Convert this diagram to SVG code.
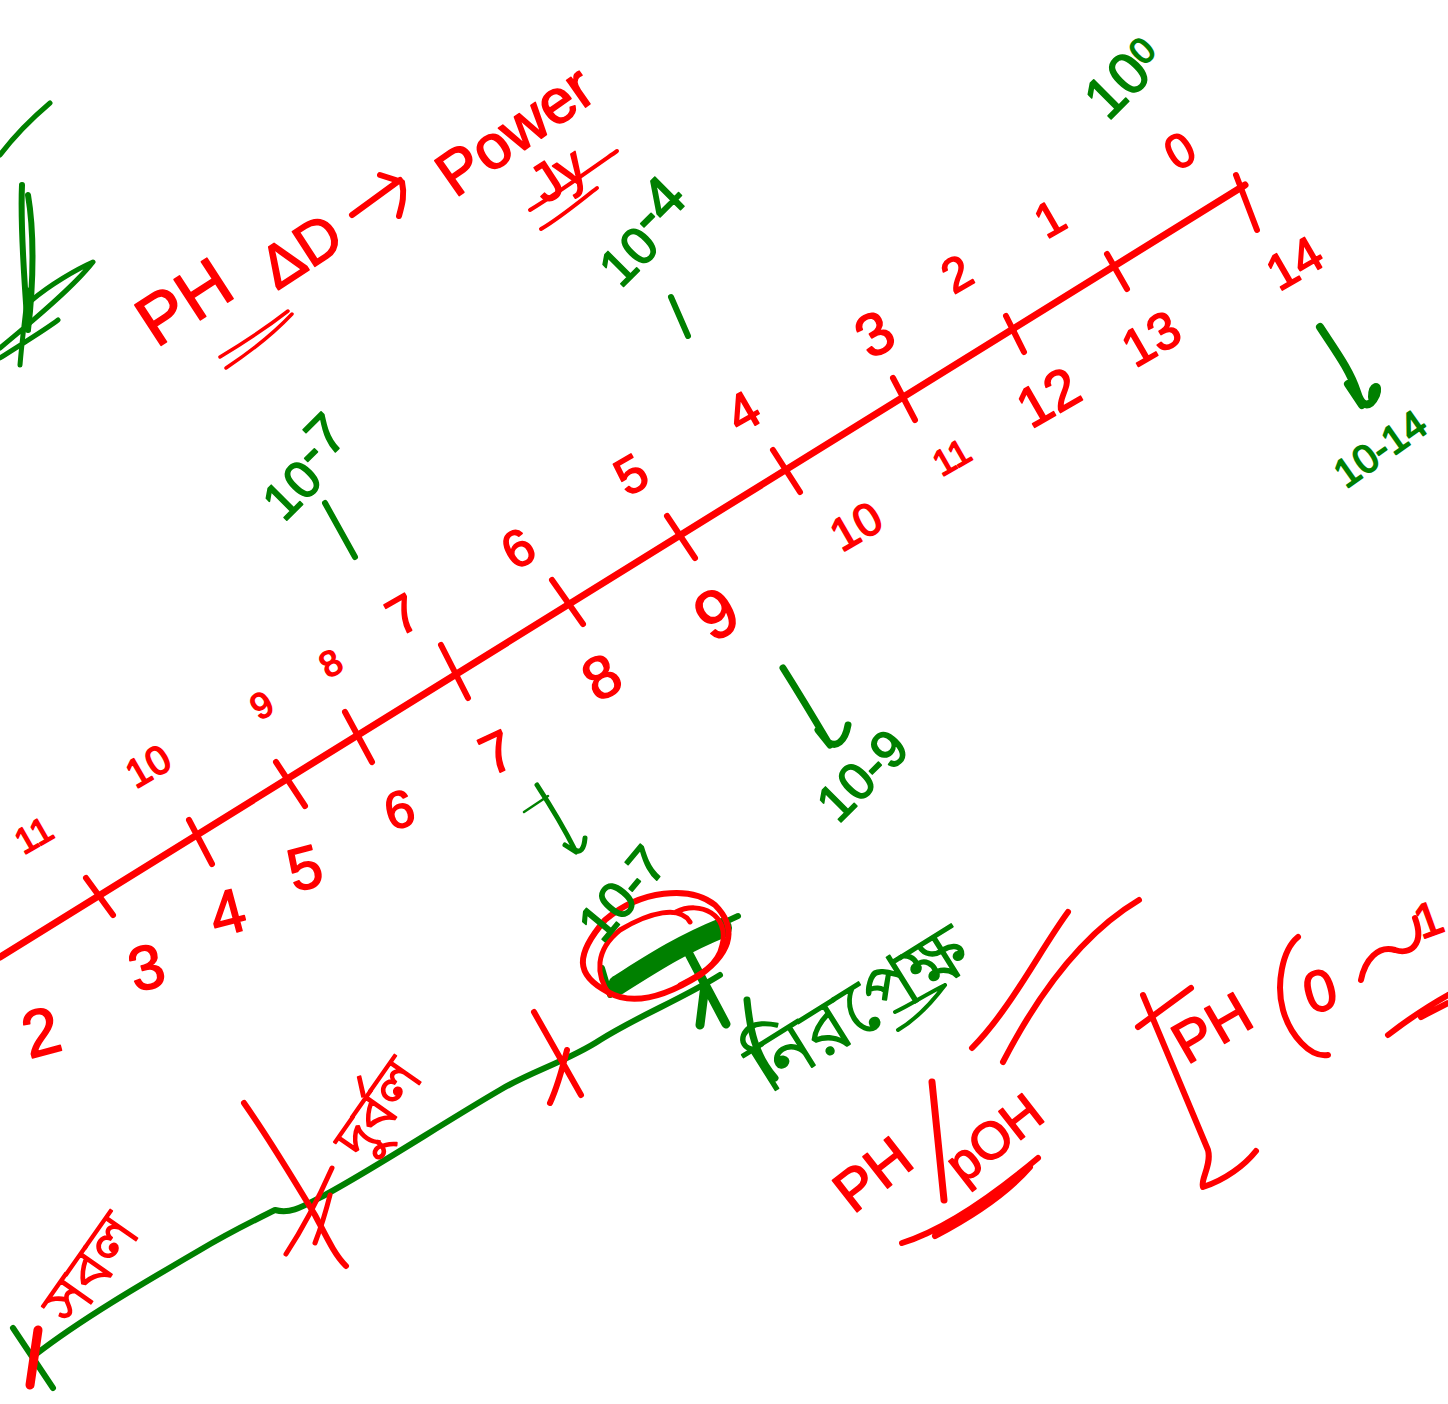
<svg xmlns="http://www.w3.org/2000/svg" width="1448" height="1404" viewBox="0 0 1448 1404">
<style>
text{font-family:"Liberation Sans","Noto Sans",sans-serif;text-anchor:middle;stroke-width:1.6;stroke-linejoin:round}
.r{fill:#f00;stroke:#f00}.g{fill:#008000;stroke:#008000}
.n{font-size:48px}
.s{font-size:36px}
.lr,.lg,.lr2,.lg2,.lr3,.thick{fill:none;stroke-linecap:round;stroke-linejoin:round}
.lr{stroke:#f00;stroke-width:6}.lr2{stroke:#f00;stroke-width:3.5}.lr3{stroke:#f00;stroke-width:9}
.lg{stroke:#008000;stroke-width:6}.lg2{stroke:#008000;stroke-width:2.5}.thick{stroke:#008000;stroke-width:20}
</style>
<rect width="1448" height="1404" fill="#fff"/>
<g id="connectors">
<path class="lr" style="stroke-width:7" d="M0 957L1245 185"/>
<path class="lr" d="M1236 175L1257 230M1107 254L1127 289M1006 316L1024 352M893 378L915 420M773 450L800 492M667 516L695 558M552 580L583 624M441 645L468 698M345 712L372 762M276 762L305 806M189 820L212 864M86 878L113 915"/>
<path class="lg" d="M35 1355C80 1320 140 1285 200 1250C230 1232 255 1220 275 1210C290 1214 300 1208 325 1195C380 1165 440 1125 500 1090C530 1072 570 1060 600 1040C640 1015 680 1000 720 975"/>
<path class="lg" d="M13 1328L53 1388"/>
<path class="lr3" d="M38 1330L30 1385"/>
<path class="lr" d="M244 1103C270 1140 300 1190 315 1215C328 1240 335 1255 346 1266"/>
<path class="lr2" style="stroke-width:5" d="M332 1168C320 1195 305 1225 286 1254M330 1195C325 1215 320 1230 315 1243"/>
<path class="lr" d="M534 1012L581 1095M567 1050C562 1070 556 1090 550 1103"/>
<path class="thick" d="M618 985C650 965 680 945 722 928"/>
<path class="lg" d="M602 968L610 995M725 922L738 916"/>
<path class="lg" style="stroke-width:9" d="M688 952L708 990L726 1024M705 985L700 1025"/>
<path class="lr" d="M608 992C575 975 575 955 605 920C640 890 690 885 715 905C735 925 735 950 700 975C660 1000 630 1005 608 992Z"/>
<path class="lr2" style="stroke-width:5" d="M610 995C595 975 595 950 620 930C650 912 680 905 690 922M676 912C700 900 730 915 722 945C718 965 700 975 680 985"/>
</g>
<g id="arrows">
<path class="lr" d="M352 215L400 180M380 175L402 182C405 195 402 205 399 216"/>
<path class="lg" style="stroke-width:8" d="M1320 327C1335 350 1350 370 1357 392C1362 408 1370 408 1376 395C1380 383 1372 385 1372 397M1348 384L1362 405"/>
<path class="lg" style="stroke-width:7" d="M783 668C800 695 815 720 828 742C836 748 845 742 848 725M818 730L830 745"/>
<path class="lg" style="stroke-width:5" d="M537 785C550 805 565 830 575 850C580 853 584 850 585 838M565 845L576 852"/>
<path class="lg2" d="M524 812L548 796"/>
</g>
<g id="marks">
<path class="lr2" d="M220 357C245 342 270 325 288 311M226 368C250 352 275 332 292 314"/>
<path class="lr" style="stroke-width:4" d="M530 210C555 195 590 170 617 151M541 229C560 218 585 197 597 188"/>
<path class="lr" d="M1139 900C1080 935 1035 1000 1003 1062"/>
<path class="lr" d="M1068 912C1040 950 1010 1010 972 1048"/>
<path class="lr" style="stroke-width:7" d="M932 1082L944 1200"/>
<path class="lr" d="M902 1243C950 1228 1000 1190 1038 1158M935 1236C975 1215 1010 1190 1030 1167"/>
<path class="lr" d="M1138 1027L1191 988M1143 995L1208 1150C1212 1165 1200 1180 1203 1187C1225 1180 1245 1165 1256 1151"/>
<path class="lr" d="M1298 937C1282 950 1276 985 1283 1010C1290 1035 1310 1058 1328 1055"/>
<path class="lr" d="M1361 980C1365 960 1378 945 1395 950C1410 955 1425 945 1415 918"/>
<path class="lr" d="M1388 1035C1410 1018 1430 1005 1448 995M1421 1017L1448 1003"/>
<path class="lg" style="stroke-width:7" d="M747 1000C750 1030 755 1055 775 1078"/>
<path class="lg" style="stroke-width:4" d="M898 1030C915 1020 930 1005 945 985M895 1012C910 1005 925 995 945 985"/>
<path class="lg" style="stroke-width:6" d="M22 185C20 230 25 290 28 330M28 195C34 230 34 280 28 330"/>
<path class="lg" style="stroke-width:5" d="M0 155C15 135 30 120 50 103M0 358C20 345 45 330 58 320M0 348C40 315 75 285 93 262C75 270 50 285 32 300M20 365C22 340 26 310 28 290"/>
</g>
<g id="top-labels">
<text class="r n" transform="translate(1188 165) rotate(-30)">0</text>
<text class="r n" transform="translate(1058 233) rotate(-30)">1</text>
<text class="r n" transform="translate(965 288) rotate(-30)">2</text>
<text class="r" style="font-size:60px" transform="translate(885 352) rotate(-30)">3</text>
<text class="r" style="font-size:52px" transform="translate(752 427) rotate(-30)">4</text>
<text class="r" style="font-size:52px" transform="translate(640 490) rotate(-30)">5</text>
<text class="r" style="font-size:52px" transform="translate(527 564) rotate(-30)">6</text>
<text class="r" style="font-size:52px" transform="translate(412 630) rotate(-30)">7</text>
<text class="r s" transform="translate(337 674) rotate(-30)">8</text>
<text class="r s" transform="translate(268 716) rotate(-30)">9</text>
<text class="r s" style="font-size:40px" transform="translate(155 778) rotate(-30)">10</text>
<text class="r s" transform="translate(40 846) rotate(-30)">11</text>
</g>
<g id="bottom-labels">
<text class="r" style="font-size:50px" transform="translate(1303 278) rotate(-30)">14</text>
<text class="r" style="font-size:52px" transform="translate(1160 354) rotate(-30)">13</text>
<text class="r" style="font-size:56px" transform="translate(1058 414) rotate(-30)">12</text>
<text class="r s" transform="translate(958 468) rotate(-30)">11</text>
<text class="r" style="font-size:46px" transform="translate(864 540) rotate(-30)">10</text>
<text class="r" style="font-size:68px" transform="translate(728 634) rotate(-30)">9</text>
<text class="r" style="font-size:60px" transform="translate(612 695) rotate(-30)">8</text>
<text class="r" style="font-size:56px" transform="translate(505 770) rotate(-25)">7</text>
<text class="r" style="font-size:52px" transform="translate(404 827) rotate(-15)">6</text>
<text class="r" style="font-size:60px" transform="translate(310 888) rotate(-15)">5</text>
<text class="r" style="font-size:62px" transform="translate(233 933) rotate(-15)">4</text>
<text class="r" style="font-size:62px" transform="translate(152 988) rotate(-15)">3</text>
<text class="r" style="font-size:66px" transform="translate(47 1054) rotate(-15)">2</text>
</g>
<g id="power-labels">
<text class="g" style="font-size:58px" transform="translate(1138 92) rotate(-45)">10<tspan dy="-14" font-size="36">0</tspan></text>
<text class="g" style="font-size:52px" transform="translate(660 250) rotate(-45)">10<tspan dy="-14" font-size="60">-4</tspan></text>
<path class="lg" d="M671 297L688 336"/>
<text class="g" style="font-size:52px" transform="translate(322 485) rotate(-45)">10<tspan dy="-14" font-size="56">-7</tspan></text>
<path class="lg" d="M325 503L355 557"/>
<text class="g" style="font-size:40px" transform="translate(1388 460) rotate(-35)">10-14</text>
<text class="g" style="font-size:52px" transform="translate(875 788) rotate(-45)">10-9</text>
<text class="g" style="font-size:52px" transform="translate(636 905) rotate(-50)">10-7</text>
</g>
<g id="notes">
<text class="r" style="font-size:70px" transform="translate(197 322) rotate(-33)">PH</text>
<text class="r" style="font-size:60px" transform="translate(312 268) rotate(-33)">ΔD</text>
<text class="r" style="font-size:62px" transform="translate(527 148) rotate(-35)">Power</text>
<text class="r" style="font-size:54px" transform="translate(568 190) rotate(-33)">Jy</text>
<text class="g" style="font-size:74px" transform="translate(872 1030) rotate(-32)">নিরপেক্ষ</text>
<text class="r" style="font-size:58px" transform="translate(885 1190) rotate(-38)">PH</text>
<text class="r" style="font-size:52px" transform="translate(1005 1152) rotate(-38)">pOH</text>
<text class="r" style="font-size:58px" transform="translate(1222 1045) rotate(-30)">PH</text>
<text class="r" style="font-size:58px" transform="translate(1325 1010) rotate(-15)">0</text>
<text class="r" style="font-size:48px" transform="translate(1434 935) rotate(-20)">1</text>
<text class="r" style="font-size:60px" transform="translate(108 1280) rotate(-55)">সবল</text>
<text class="r" style="font-size:58px" transform="translate(395 1120) rotate(-55)">দুর্বল</text>
</g>
</svg>
